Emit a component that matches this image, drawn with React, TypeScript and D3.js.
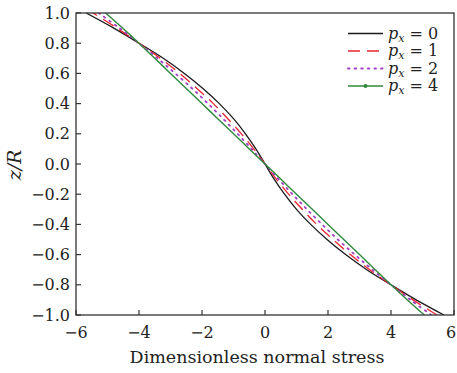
import React from "react";
import * as d3 from "d3";

const zLevels = [-1, -0.9, -0.8, -0.7, -0.6, -0.5, -0.4, -0.3, -0.2, -0.1, 0, 0.1, 0.2, 0.3, 0.4, 0.5, 0.6, 0.7, 0.8, 0.9, 1];
const stressP0 = [5.68, 4.8, 4.0, 3.23, 2.56, 1.97, 1.45, 1.0, 0.62, 0.29, 0, -0.29, -0.62, -1.0, -1.45, -1.97, -2.56, -3.23, -4.0, -4.8, -5.68];
const stressP1 = [5.46, 4.7, 4.0, 3.32, 2.71, 2.16, 1.64, 1.18, 0.75, 0.36, 0, -0.36, -0.75, -1.18, -1.64, -2.16, -2.71, -3.32, -4.0, -4.7, -5.46];
const stressP2 = [5.28, 4.62, 4.0, 3.41, 2.85, 2.31, 1.81, 1.33, 0.87, 0.43, 0, -0.43, -0.87, -1.33, -1.81, -2.31, -2.85, -3.41, -4.0, -4.62, -5.28];
const stressP4 = [5.06, 4.52, 4.0, 3.5, 3.0, 2.5, 2.0, 1.5, 1.0, 0.5, 0, -0.5, -1.0, -1.5, -2.0, -2.5, -3.0, -3.5, -4.0, -4.52, -5.06];
const seriesLabels = ["0", "1", "2", "4"];
const xTicks = [-6, -4, -2, 0, 2, 4, 6];
const yTicks = [-1, -0.8, -0.6, -0.4, -0.2, 0, 0.2, 0.4, 0.6, 0.8, 1];

const W = 457, H = 373;
const M = { left: 76, right: 454, top: 13, bottom: 315 };
const FONT = "'DejaVu Serif', serif";

export default function App() {
  const x = d3.scaleLinear().domain([-6, 6]).range([M.left, M.right]);
  const y = d3.scaleLinear().domain([-1, 1]).range([M.bottom, M.top]);
  const series = [
    { vals: stressP0, color: "#1a1a1a", dash: "", width: 1.3 },
    { vals: stressP1, color: "#e8242c", dash: "12,7", width: 1.3 },
    { vals: stressP2, color: "#a23fc6", dash: "1.6,5", width: 1.8 },
    { vals: stressP4, color: "#2f8a3c", dash: "", width: 1.4, marker: true },
  ];
  const line = d3
    .line<number>()
    .x((d) => x(d))
    .y((_, i) => y(zLevels[i]))
    .curve(d3.curveCatmullRom);
  const fmtY = (v: number) => (v < 0 ? "\u2212" : "") + Math.abs(v).toFixed(1);
  const fmtX = (v: number) => (v < 0 ? "\u2212" : "") + Math.abs(v);
  const legX0 = 348, legX1 = 383, legY0 = 33.5, legDy = 17.5;
  return (
    <svg width={W} height={H} style={{ position: "absolute", left: 0, top: 0, background: "#fff" }} fontFamily={FONT}>
      <defs>
        <clipPath id="plotclip">
          <rect x={M.left} y={M.top} width={M.right - M.left} height={M.bottom - M.top} />
        </clipPath>
      </defs>
      <g clipPath="url(#plotclip)">
        {series.map((s, k) => (
          <path key={k} d={line(s.vals) || ""} fill="none" stroke={s.color} strokeWidth={s.width} strokeDasharray={s.dash || undefined} strokeLinecap={s.dash.startsWith("1.6") ? "round" : "butt"} />
        ))}
      </g>
      <rect x={M.left} y={M.top} width={M.right - M.left} height={M.bottom - M.top} fill="none" stroke="#333" strokeWidth={1.3} />
      {xTicks.map((t, i) => (
        <g key={"x" + t}>
          <line x1={x(t)} x2={x(t)} y1={M.bottom} y2={M.bottom - 5} stroke="#333" strokeWidth={1.2} />
          <text x={x(t) - (i === xTicks.length - 1 ? 3 : 0)} y={338} fontSize={16} textAnchor="middle" fill="#222">{fmtX(t)}</text>
        </g>
      ))}
      {yTicks.map((t) => (
        <g key={"y" + t}>
          <line x1={M.left} x2={M.left + 5} y1={y(t)} y2={y(t)} stroke="#333" strokeWidth={1.2} />
          <text x={70} y={y(t) + 5.5} fontSize={16} textAnchor="end" fill="#222">{fmtY(t)}</text>
        </g>
      ))}
      <text x={257} y={363} fontSize={17.5} textAnchor="middle" fill="#222">Dimensionless normal stress</text>
      <text transform={`translate(21,165) rotate(-90)`} fontSize={19} textAnchor="middle" fontStyle="italic" fill="#222">z/R</text>
      {series.map((s, k) => {
        const ly = legY0 + k * legDy;
        return (
          <g key={"l" + k}>
            <line x1={legX0} x2={legX1} y1={ly} y2={ly} stroke={s.color} strokeWidth={s.width} strokeDasharray={s.dash || undefined} strokeLinecap={s.dash.startsWith("1.6") ? "round" : "butt"} />
            {s.marker && <circle cx={(legX0 + legX1) / 2} cy={ly} r={2} fill={s.color} />}
            <text x={388} y={ly + 5} fontSize={16} fill="#222">
              <tspan fontStyle="italic">p</tspan>
              <tspan fontStyle="italic" fontSize={11} dy={3}>x</tspan>
              <tspan dy={-3}>{" = " + seriesLabels[k]}</tspan>
            </text>
          </g>
        );
      })}
    </svg>
  );
}
